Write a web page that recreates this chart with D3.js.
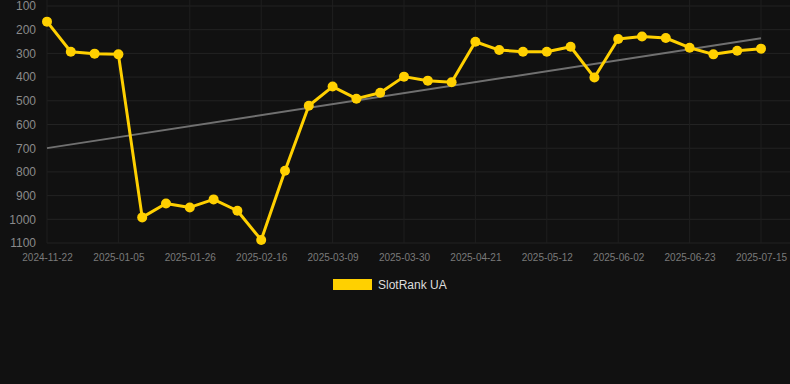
<!DOCTYPE html>
<html>
<head>
<meta charset="utf-8">
<script src="https://cdn.jsdelivr.net/npm/d3@7"></script>
<style>
html,body{margin:0;padding:0;background:#111111;}
svg{display:block;font-family:Arial,"Liberation Sans",sans-serif;}
</style>
</head>
<body>
<svg id="chart" width="790" height="384"></svg>
<script>
const dates = ["2024-11-22","2024-12-06","2024-12-20","2025-01-05","2025-01-12","2025-01-19","2025-01-26","2025-02-02","2025-02-09","2025-02-16","2025-02-23","2025-03-02","2025-03-09","2025-03-16","2025-03-23","2025-03-30","2025-04-06","2025-04-13","2025-04-21","2025-04-28","2025-05-05","2025-05-12","2025-05-19","2025-05-26","2025-06-02","2025-06-09","2025-06-16","2025-06-23","2025-06-30","2025-07-07","2025-07-15"];
const rankValues = [166,293,301,304,992,933,950,916,964,1087,795,521,440,491,466,398,415,422,251,286,293,293,272,402,239,229,235,276,304,289,280];
const yTicks = [100,200,300,400,500,600,700,800,900,1000,1100];
const seriesName = "SlotRank UA";

const svg = d3.select("#chart");
const W = 790, H = 384;
const margin = {left: 47, right: 29, top: 6, bottom: 141};
const x = d3.scalePoint().domain(dates).range([margin.left, W - margin.right]);
const y = d3.scaleLinear().domain([100, 1100]).range([margin.top, H - margin.bottom]);

// grid
const grid = svg.append("g");
grid.selectAll("line.h").data(yTicks).enter().append("line")
  .attr("x1", margin.left).attr("x2", W)
  .attr("y1", d => y(d)).attr("y2", d => y(d))
  .attr("stroke", "#232323").attr("stroke-width", 1);
const labelDates = dates.filter((d, i) => i % 3 === 0);
grid.selectAll("line.v").data(labelDates).enter().append("line")
  .attr("x1", d => x(d)).attr("x2", d => x(d))
  .attr("y1", 0).attr("y2", y(1100))
  .attr("stroke", "#1f1f1f").attr("stroke-width", 1);

// y axis labels
const yAxis = d3.axisLeft(y).tickValues(yTicks).tickFormat(d3.format("d")).tickSize(0).tickPadding(0);
const gy = svg.append("g").attr("transform", "translate(36,0)").call(yAxis);
gy.select(".domain").remove();
gy.selectAll("text").attr("fill", "#8a8a8a").attr("font-size", "12px").attr("font-family", "Arial, 'Liberation Sans', sans-serif");

// x axis labels
const xAxis = d3.axisBottom(x).tickValues(labelDates).tickSize(0).tickPadding(0);
const gx = svg.append("g").attr("transform", `translate(0,${y(1100) + 11})`).call(xAxis);
gx.select(".domain").remove();
gx.selectAll("text").attr("fill", "#7a7a7a").attr("font-size", "10px").attr("font-family", "Arial, 'Liberation Sans', sans-serif");

// trend line (least squares)
const n = rankValues.length;
const idx = d3.range(n);
const mx = d3.mean(idx), my = d3.mean(rankValues);
const slope = d3.sum(idx, i => (i - mx) * (rankValues[i] - my)) / d3.sum(idx, i => (i - mx) ** 2);
const intercept = my - slope * mx;
svg.append("line")
  .attr("x1", x(dates[0])).attr("y1", y(intercept))
  .attr("x2", x(dates[n - 1])).attr("y2", y(intercept + slope * (n - 1)))
  .attr("stroke", "#707070").attr("stroke-width", 2);

// series line
const color = "#FFD000";
const line = d3.line().x((d, i) => x(dates[i])).y(d => y(d));
svg.append("path").datum(rankValues)
  .attr("d", line).attr("fill", "none")
  .attr("stroke", color).attr("stroke-width", 3).attr("stroke-linejoin", "round");
svg.selectAll("circle.pt").data(rankValues).enter().append("circle")
  .attr("cx", (d, i) => x(dates[i])).attr("cy", d => y(d))
  .attr("r", 5).attr("fill", color);

// legend
const lg = svg.append("g");
lg.append("rect").attr("x", 333).attr("y", 279).attr("width", 39).attr("height", 11).attr("fill", color);
lg.append("text").attr("x", 378).attr("y", 289).text(seriesName)
  .attr("fill", "#dddddd").attr("font-size", "12px");
</script>
</body>
</html>
